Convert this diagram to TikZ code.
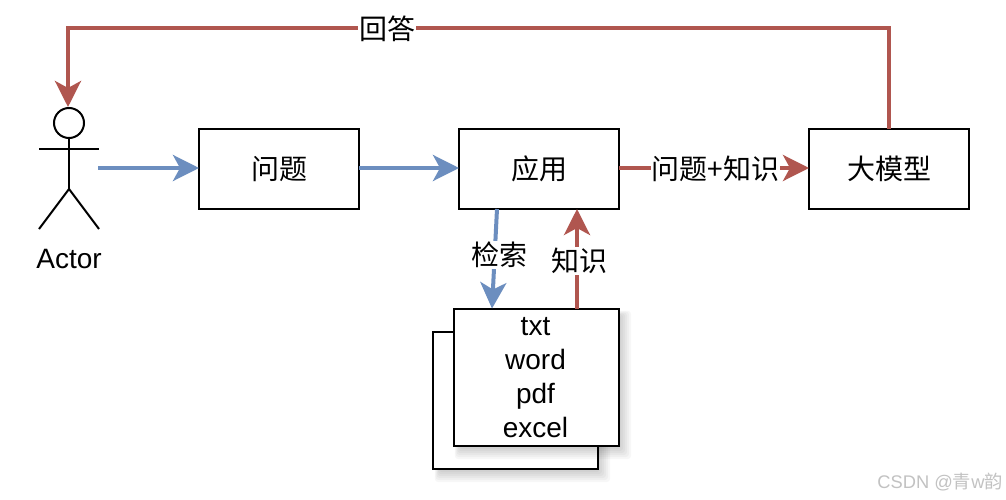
\documentclass[tikz,border=0pt]{standalone}
\usepackage{fontspec}
\setmainfont{Liberation Sans}
\newfontfamily\cjk{Noto Sans CJK SC}
\usetikzlibrary{arrows.meta,calc}
\definecolor{flowblue}{HTML}{6C8EBF}
\definecolor{flowred}{HTML}{B0564F}
\tikzset{
  x=1pt,y=-1pt,
  box/.style={draw=black,line width=2pt,fill=white,minimum width=160pt,minimum height=80pt,inner sep=0pt,outer sep=0pt,font=\fontsize{28}{34}\selectfont\cjk},
  lbl/.style={fill=white,inner sep=1pt,font=\fontsize{28}{34}\selectfont\cjk},
  bluearrow/.style={draw=flowblue,line width=4pt,-{Stealth[length=26pt,width=26pt,inset=7pt]}},
  redarrow/.style={draw=flowred,line width=4pt,-{Stealth[length=26pt,width=26pt,inset=7pt]}},
  stick/.style={draw=black,line width=2pt},
  softshadow/.style={fill=black,fill opacity=0.03,draw=none}
}
\newcommand{\softbox}[4]{%
  \foreach \r in {-3,-1,...,9}{
    \fill[softshadow,rounded corners=3pt] ({#1+5-0.4*\r},{#2+6-0.4*\r}) rectangle ({#3+3+\r},{#4+4+\r});
  }
}
\begin{document}
\begin{tikzpicture}
\useasboundingbox (0,0) rectangle (1006,500);
\fill[white] (0,0) rectangle (1006,500);

% actor
\node[circle,draw=black,line width=2pt,minimum size=30pt,inner sep=0pt,outer sep=0pt] (head) at (69,123) {};
\coordinate (armL) at (39,149);
\coordinate (armR) at (99,149);
\coordinate (hip) at (69,189);
\coordinate (legL) at (39,229);
\coordinate (legR) at (99,229);
\draw[stick] (head.south) -- (hip);
\draw[stick] (armL) -- (armR);
\draw[stick] (legL) -- (hip) -- (legR);
\node[font=\fontsize{28}{34}\selectfont,inner sep=0pt] (actor) at (69,259) {Actor};
\coordinate (actorOut) at (98,168);

% boxes
\node[box] (q) at (279,169) {问题};
\node[box] (app) at (539,169) {应用};
\node[box] (llm) at (889,169) {大模型};

% documents
\softbox{433.5}{332}{598}{469}
\node[box,minimum width=165pt,minimum height=137pt,anchor=north west] (docback) at (433,332) {};
\softbox{453.5}{308.5}{619}{446}
\node[box,minimum width=165.5pt,minimum height=137.5pt,anchor=north west] (docs) at (453.5,308.5) {};
\node[font=\fontsize{28}{34}\selectfont,align=center,inner sep=0pt,anchor=center] (doctext) at (535.5,378) {txt\\word\\pdf\\excel};

% connectors
\draw[bluearrow] (actorOut) -- (actorOut -| q.west);
\draw[bluearrow] (q.east |- 0,168) -- (app.west |- 0,168);
\draw[redarrow] (app.east |- 0,168) -- (llm.west |- 0,168);
\node[lbl] (l1) at (715.5,169) {问题+知识};

\coordinate (top1) at (889,28);
\coordinate (top2) at (68,28);
\coordinate (actorIn) at (68,107);
\draw[redarrow] (llm.north) -- (top1) -- (top2) -- (actorIn);
\node[lbl] (l2) at (387,29) {回答};

\coordinate (searchS) at ($(app.south west)+(38,0)$);
\coordinate (searchE) at ($(docs.north west)+(38.5,0)$);
\draw[bluearrow] (searchS) -- (searchE);
\node[lbl] (l3) at (499,255) {检索};

\coordinate (knowS) at ($(docs.north west)+(123.5,0)$);
\coordinate (knowE) at ($(app.south west)+(118,0)$);
\draw[redarrow] (knowS) -- (knowE);
\node[lbl] (l4) at (579,261) {知识};

% watermark
\node[text=black!24,inner sep=0pt,anchor=east,font=\fontsize{18.3}{20}\selectfont] (wm) at (1003,482) {CSDN @{\cjk 青}w{\cjk 韵}};
\end{tikzpicture}
\end{document}
